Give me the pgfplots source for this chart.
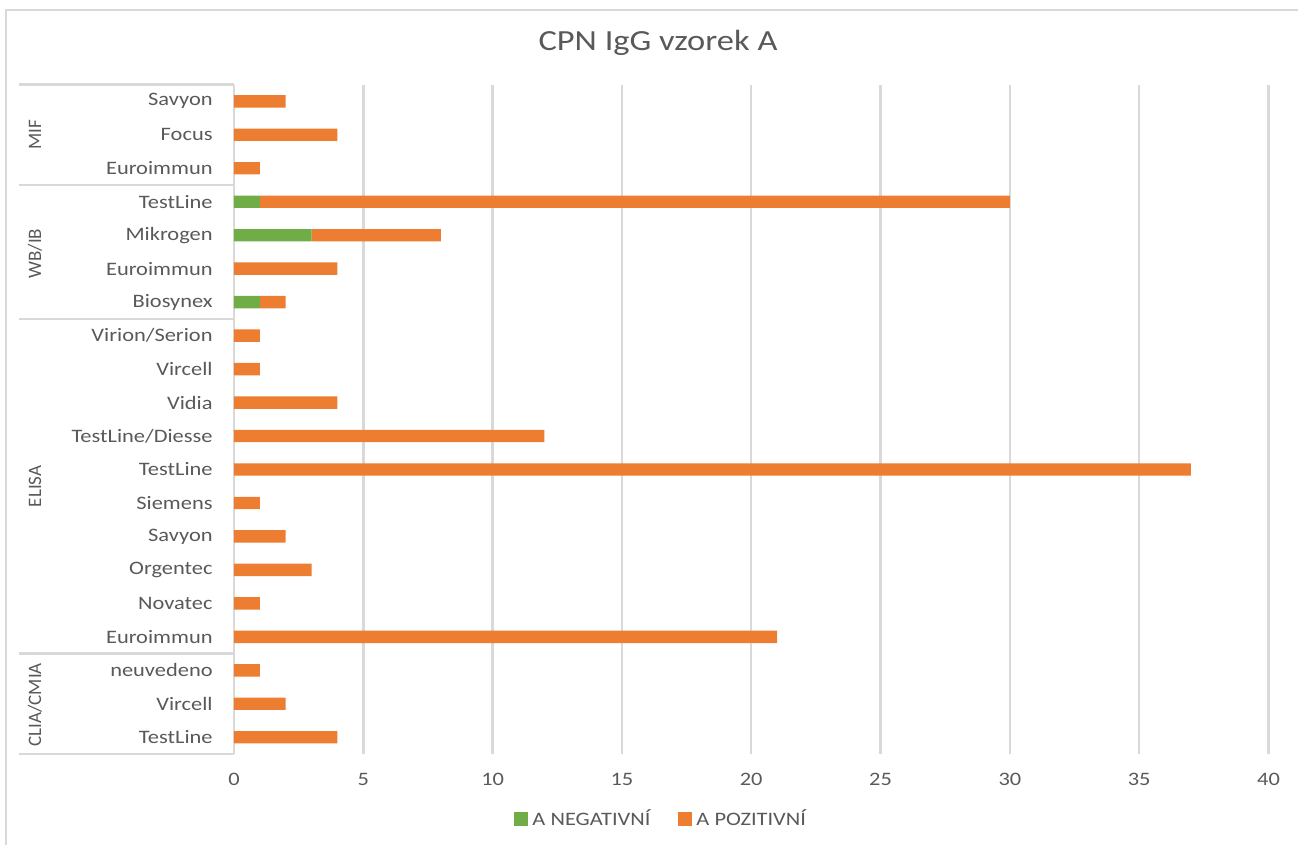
\documentclass[border=0pt]{standalone}
\usepackage{pgfplots}
\pgfplotsset{compat=1.18}
\usepackage{pgfplotstable}
\usepackage{fontspec}
\setmainfont{Carlito}[FakeStretch=1.18]
\newfontfamily\grpfont{Carlito}
\definecolor{cneg}{HTML}{70AD47}
\definecolor{cpos}{HTML}{ED7D31}
\definecolor{cgrid}{HTML}{D9D9D9}
\definecolor{ctext}{HTML}{595959}

\pgfplotstableread{
row neg pos
0 0 4
1 0 2
2 0 1
3 0 21
4 0 1
5 0 3
6 0 2
7 0 1
8 0 37
9 0 12
10 0 4
11 0 1
12 0 1
13 1 1
14 0 4
15 3 5
16 1 29
17 0 1
18 0 4
19 0 2
}\datatable

\begin{document}
\begin{tikzpicture}
\begin{axis}[
  at={(0,0)}, anchor=south west,
  scale only axis,
  width=517.25pt, height=334.7pt,
  xbar stacked,
  bar width=6.2pt,
  xmin=0, xmax=40,
  ymin=-0.5, ymax=19.5,
  xtick={0,5,...,40},
  ytick={0,...,19},
  yticklabels={TestLine,Vircell,neuvedeno,Euroimmun,Novatec,Orgentec,Savyon,Siemens,TestLine,TestLine/Diesse,Vidia,Vircell,Virion/Serion,Biosynex,Euroimmun,Mikrogen,TestLine,Euroimmun,Focus,Savyon},
  xmajorgrids,
  major grid style={cgrid, line width=1.2pt},
  axis line style={draw=none},
  major tick length=0pt,
  tick style={draw=none},
  /pgf/number format/assume math mode=true,
  tick label style={font=\fontsize{9.5}{11}\selectfont, text=ctext},
  xticklabel style={anchor=center, yshift=-12.5pt},
  yticklabel style={anchor=east, inner sep=0pt, xshift=-10.5pt},
  clip=false,
  legend columns=2,
  legend style={draw=none, fill=none, font=\fontsize{9.5}{11}\selectfont, text=ctext,
    at={(axis description cs:0.414,-0.097)}, anchor=center,
    /tikz/every even column/.append style={column sep=12pt}},
  legend image code/.code={\fill[#1] (0pt,-3.5pt) rectangle (7pt,3.5pt);},
]
\addplot[fill=cneg, draw=none] table[x=neg, y=row] {\datatable};
\addlegendentry{A NEGATIVNÍ}
\addplot[fill=cpos, draw=none] table[x=pos, y=row] {\datatable};
\addlegendentry{A POZITIVNÍ}

\pgfplotsinvokeforeach{19.5,16.5,12.5,2.5,-0.5}{
  \draw[cgrid, line width=1.2pt] ([xshift=-107.5pt]axis cs:0,#1) -- (axis cs:0,#1);
}
\node[rotate=90, text=ctext, font=\grpfont\fontsize{9.5}{11}\selectfont] at ([xshift=-99.5pt]axis cs:0,18) {MIF};
\node[rotate=90, text=ctext, font=\grpfont\fontsize{9.5}{11}\selectfont] at ([xshift=-99.5pt]axis cs:0,14.45) {WB/IB};
\node[rotate=90, text=ctext, font=\grpfont\fontsize{9.5}{11}\selectfont] at ([xshift=-99.5pt]axis cs:0,7.5) {ELISA};
\node[rotate=90, text=ctext, font=\grpfont\fontsize{9.5}{11}\selectfont] at ([xshift=-99.5pt]axis cs:0,0.97) {CLIA/CMIA};
\end{axis}
\node[text=ctext, font=\fontsize{14.6}{16}\selectfont] at (212pt,355.5pt) {CPN IgG vzorek A};
\draw[cgrid, line width=1pt] (-114pt,-50pt) -- (-114pt,372pt) -- (540pt,372pt);
\pgfresetboundingbox
\useasboundingbox (-117pt,-45.5pt) rectangle (532pt,377pt);
\end{tikzpicture}
\end{document}
